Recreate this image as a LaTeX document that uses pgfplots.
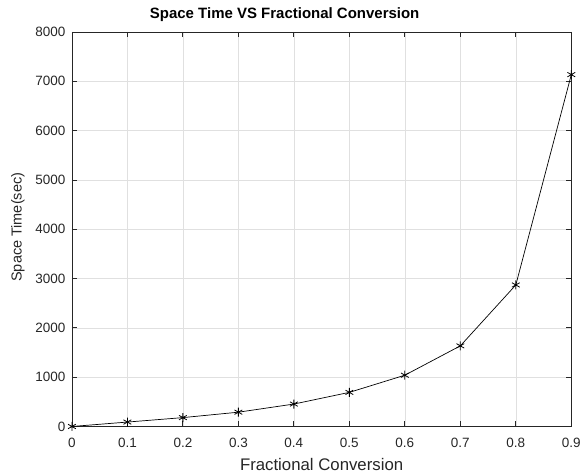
\documentclass[border=0pt]{standalone}
\usepackage{pgfplots}
\pgfplotsset{compat=1.18}
\usepackage{fontspec}
\setmainfont{Liberation Sans}
\definecolor{axgray}{gray}{0.15}
\definecolor{gridgray}{gray}{0.88}
\begin{document}
\begin{tikzpicture}
\begin{axis}[
  scale only axis,
  width=500bp, height=395bp,
  at={(0,0)}, anchor=south west,
  xmin=0, xmax=0.9, ymin=0, ymax=8000,
  xtick={0,0.1,...,0.9},
  xticklabels={0,0.1,0.2,0.3,0.4,0.5,0.6,0.7,0.8,0.9},
  ytick={0,1000,...,8000},
  scaled y ticks=false,
  /pgf/number format/assume math mode=true,
  /pgf/number format/fixed,
  /pgf/number format/1000 sep={},
  grid=major,
  major grid style={gridgray, line width=0.6pt},
  axis line style={axgray, line width=0.8pt},
  tick style={axgray, line width=0.8pt},
  major tick length=5bp,
  tick align=inside,
  ticklabel style={font=\fontsize{13.5bp}{15bp}\selectfont, text=axgray},
  xticklabel style={yshift=-8bp},
  yticklabel style={xshift=-3bp},
  title={\textbf{Space Time VS Fractional Conversion}},
  title style={font=\fontsize{15bp}{17bp}\selectfont, inner sep=0pt,
    at={(axis description cs:0.5,1)}, anchor=center, yshift=11bp, xshift=-37bp},
  xlabel={Fractional Conversion},
  ylabel={Space Time(sec)},
  label style={text=axgray, inner sep=0pt},
  xlabel style={font=\fontsize{16.8bp}{18bp}\selectfont,
    at={(axis description cs:0.5,0)}, anchor=center, yshift=-38bp},
  ylabel style={font=\fontsize{14.5bp}{16bp}\selectfont,
    at={(axis description cs:0,0.5)}, anchor=center, yshift=54bp, xshift=2bp},
]
\addplot[black, line width=0.7pt, mark=asterisk, mark size=4.5bp, mark options={line width=0.8pt}]
  coordinates {
  (0,0) (0.1,90) (0.2,180) (0.3,290) (0.4,455) (0.5,692)
  (0.6,1040) (0.7,1635) (0.8,2870) (0.9,7135)
  };
\end{axis}
\path (-72bp,-46bp) rectangle (512bp,427bp);
\end{tikzpicture}
\end{document}
